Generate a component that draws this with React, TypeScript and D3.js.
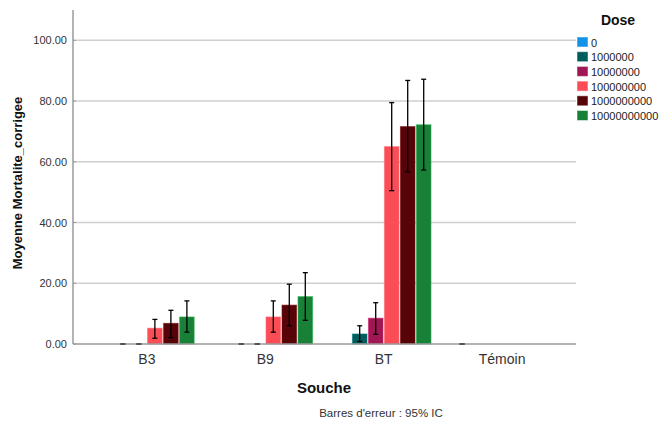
import React from "react";
import * as d3 from "d3";

// Strains (x categories) and dose levels (clustered series)
const categories = ["B3", "B9", "BT", "Témoin"];
const doses = ["0", "1000000", "10000000", "100000000", "1000000000", "10000000000"];
const doseColors = ["#1192e8", "#005d5d", "#9f1853", "#fa4d56", "#570408", "#198038"];

// Mean corrected mortality per strain, one entry per dose (null = no observation)
const meanB3 = [null, 0, 0, 5.2, 6.8, 8.9];
const meanB9 = [null, 0, 0, 8.9, 12.8, 15.6];
const meanBT = [null, 3.3, 8.5, 65.0, 71.6, 72.2];
const meanTemoin = [0, null, null, null, null, null];

// 95% confidence interval bounds
const lowB3 = [null, 0, 0, 1.9, 2.1, 3.9];
const highB3 = [null, 0, 0, 8.1, 11.1, 14.2];
const lowB9 = [null, 0, 0, 3.9, 6.0, 7.8];
const highB9 = [null, 0, 0, 14.2, 19.7, 23.5];
const lowBT = [null, 0.8, 3.2, 50.5, 56.7, 57.3];
const highBT = [null, 6.0, 13.6, 79.5, 86.8, 87.2];
const lowTemoin = [0, null, null, null, null, null];
const highTemoin = [0, null, null, null, null, null];

const yTicks = [0, 20, 40, 60, 80, 100];

const means = [meanB3, meanB9, meanBT, meanTemoin];
const lows = [lowB3, lowB9, lowBT, lowTemoin];
const highs = [highB3, highB9, highBT, highTemoin];

const FONT = "'Liberation Sans', Arial, sans-serif";

export default function App() {
  const width = 660;
  const height = 421;
  const left = 73;
  const right = 576;
  const bottom = 344;
  const top = 10;

  const x = d3.scaleBand<string>().domain(categories).range([left, right]).paddingInner(0).paddingOuter(0.124);
  const groupWidth = 96;
  const xInner = d3
    .scaleBand<string>()
    .domain(doses)
    .range([-groupWidth / 2, groupWidth / 2])
    .paddingInner(0.09)
    .paddingOuter(0.045);
  const y = d3.scaleLinear().domain([0, 110]).range([bottom, top]);

  const bars: React.ReactNode[] = [];
  const errs: React.ReactNode[] = [];
  categories.forEach((cat, ci) => {
    const cx = (x(cat) ?? 0) + x.bandwidth() / 2;
    doses.forEach((dose, di) => {
      const m = means[ci][di];
      if (m === null) return;
      const bx = cx + (xInner(dose) ?? 0);
      const bw = xInner.bandwidth();
      const fill = doseColors[di];
      if (m > 0) {
        bars.push(
          <rect
            key={`b-${cat}-${dose}`}
            x={bx}
            y={y(m)}
            width={bw}
            height={y(0) - y(m)}
            fill={fill}
            stroke={d3.color(fill)!.brighter(0.8).formatHex()}
            strokeOpacity={0.6}
            strokeWidth={1}
          />
        );
      }
      const lo = lows[ci][di] as number;
      const hi = highs[ci][di] as number;
      const ex = bx + bw / 2;
      const cap = 2.5;
      errs.push(
        <g key={`e-${cat}-${dose}`} stroke={m === 0 ? "#555" : "#000"} strokeWidth={m === 0 ? 2 : 1.3}>
          {hi > lo && <line x1={ex} x2={ex} y1={y(lo)} y2={y(hi)} />}
          <line x1={ex - cap} x2={ex + cap} y1={y(hi)} y2={y(hi)} />
          <line x1={ex - cap} x2={ex + cap} y1={y(lo)} y2={y(lo)} />
        </g>
      );
    });
  });

  return (
    <svg width={width} height={height} style={{ position: "absolute", left: 0, top: 0 }} fontFamily={FONT}>
      <rect width={width} height={height} fill="#fff" />
      {/* gridlines */}
      {yTicks
        .filter((t) => t > 0)
        .map((t) => (
          <line key={`g${t}`} x1={left} x2={right} y1={y(t)} y2={y(t)} stroke="#cfcfcf" strokeWidth={1.5} />
        ))}
      {/* y tick labels */}
      {yTicks.map((t) => (
        <g key={`t${t}`}>
          <line x1={left} x2={left + 3} y1={y(t)} y2={y(t)} stroke="#999" strokeWidth={1} />
          <text x={67} y={y(t) + 4} fontSize={11} fill="#333" textAnchor="end">
            {t.toFixed(2)}
          </text>
        </g>
      ))}
      {bars}
      {/* axes */}
      <line x1={left} x2={left} y1={top} y2={bottom} stroke="#9a9a9a" strokeWidth={1.5} />
      <line x1={left} x2={right} y1={bottom} y2={bottom} stroke="#9a9a9a" strokeWidth={1.5} />
      {errs}
      {/* x category labels */}
      {categories.map((c) => (
        <text
          key={`c${c}`}
          x={(x(c) ?? 0) + x.bandwidth() / 2}
          y={364}
          fontSize={14}
          fill="#333"
          textAnchor="middle"
        >
          {c}
        </text>
      ))}
      {/* axis titles */}
      <text x={324} y={393} fontSize={15} fontWeight="bold" fill="#111" textAnchor="middle">
        Souche
      </text>
      <text
        transform="translate(22,183) rotate(-90)"
        fontSize={13}
        fontWeight="bold"
        fill="#111"
        textAnchor="middle"
      >
        Moyenne Mortalite_corrigee
      </text>
      <text x={381} y={417} fontSize={11.5} fill="#333" textAnchor="middle">
        Barres d'erreur : 95% IC
      </text>
      {/* legend */}
      <text x={618} y={25} fontSize={14} fontWeight="bold" fill="#111" textAnchor="middle">
        Dose
      </text>
      {doses.map((d, i) => (
        <g key={`l${d}`} transform={`translate(577,${42 + i * 14.7})`}>
          <rect x={0} y={-5} width={11} height={10} fill={doseColors[i]} stroke="#fff" strokeOpacity={0.5} />
          <text x={14} y={4.5} fontSize={11} fill="#222">
            {d}
          </text>
        </g>
      ))}
    </svg>
  );
}
